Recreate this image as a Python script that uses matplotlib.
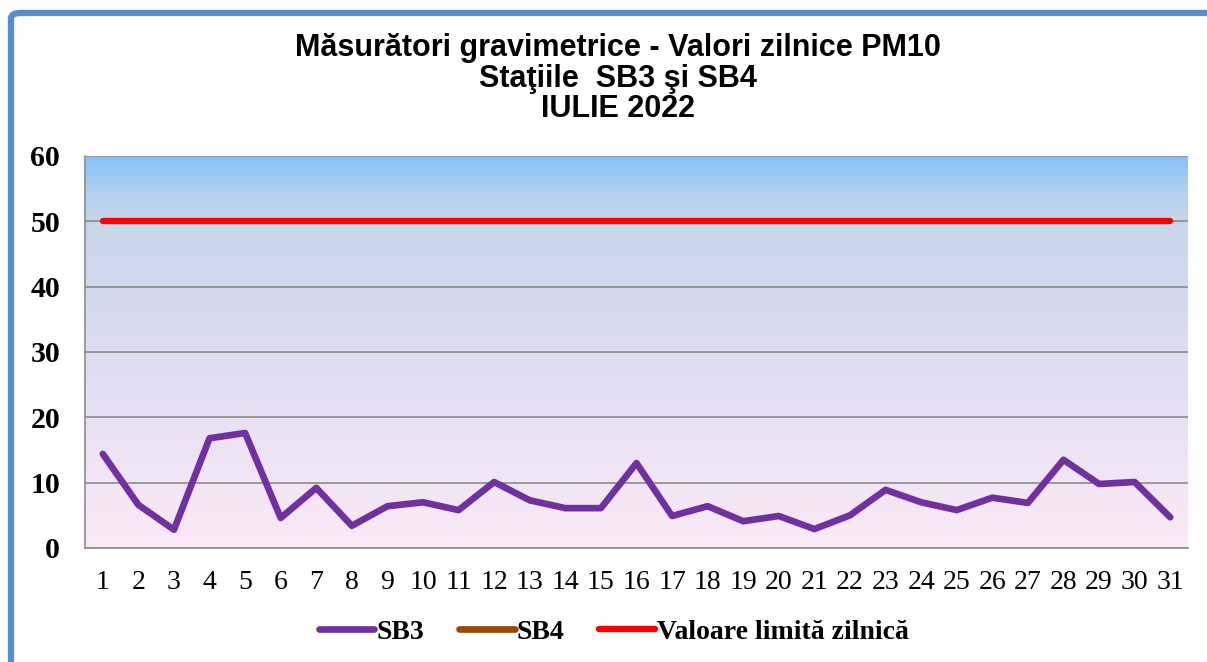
import numpy as np
import matplotlib.pyplot as plt
from matplotlib.colors import LinearSegmentedColormap
from matplotlib.patches import FancyBboxPatch

# date: PM10 zilnic, iulie 2022
zile = list(range(1, 32))
sb3 = [14.4, 6.6, 2.8, 16.8, 17.6, 4.6, 9.2, 3.4, 6.4, 7.0, 5.8, 10.1, 7.3, 6.1, 6.1,
       13.0, 4.9, 6.4, 4.1, 4.9, 2.9, 5.0, 8.9, 7.0, 5.8, 7.7, 6.9, 13.5, 9.8, 10.1, 4.7]
sb4 = [np.nan] * 31
limita = [50] * 31

titlu = "Măsurători gravimetrice - Valori zilnice PM10\nStaţiile  SB3 şi SB4\nIULIE 2022"

fig = plt.figure(figsize=(12.07, 6.62), dpi=100)
ax = fig.add_axes([85/1207, 1 - 548/662, (1188-85)/1207, (548-156)/662])

# fundal in gradient
grad = LinearSegmentedColormap.from_list("fundal", [
    (0.0, "#fbeaf8"), (0.25, "#eee3f4"), (0.55, "#d9dcf0"),
    (0.83, "#c8d7eb"), (0.92, "#b0cff0"), (1.0, "#84c1f9")])
ax.imshow(np.linspace(0, 1, 256).reshape(-1, 1), aspect='auto', cmap=grad,
          extent=[0.5, 31.5, 0, 60], origin='lower', zorder=0)

ax.plot(zile, sb3, color='#7030a0', lw=4.8, solid_capstyle='round',
        solid_joinstyle='round', label='SB3', zorder=3)
ax.plot(zile, sb4, color='#984807', lw=4.8, solid_capstyle='round', label='SB4', zorder=3)
ax.plot(zile, limita, color='#ff0000', lw=4.6, solid_capstyle='round',
        label='Valoare limită zilnică', zorder=3)

ax.set_xlim(0.5, 31.5)
ax.set_ylim(0, 60)
ax.set_yticks(range(0, 61, 10))
ax.set_xticks(zile)
ax.yaxis.grid(True, color='#8c8c8c', lw=1.2, zorder=1)
ax.set_axisbelow(False)
for s in ['top', 'right']:
    ax.spines[s].set_visible(False)
for s in ['left', 'bottom']:
    ax.spines[s].set_color('#8c8c8c')
    ax.spines[s].set_linewidth(1.2)
ax.tick_params(length=0)
ax.tick_params(axis='y', pad=18)
ax.tick_params(axis='x', pad=16)
for lb in ax.get_yticklabels():
    lb.set_fontfamily('Liberation Serif')
    lb.set_fontweight('bold')
    lb.set_fontsize(21.5)
for lb in ax.get_xticklabels():
    lb.set_fontfamily('Liberation Serif')
    lb.set_fontsize(20)

fig.text(618/1207, 1 - 33/662, titlu, ha='center', va='top', fontsize=22,
         fontweight='bold', family='Liberation Sans', linespacing=1.03)

leg = fig.legend(loc='center', bbox_to_anchor=(614/1207, 1 - 632/662), ncol=3,
                 frameon=False, handlelength=2.0, handletextpad=0.08, columnspacing=1.25,
                 prop={'family': 'Liberation Serif', 'weight': 'bold', 'size': 20})

# chenar albastru
fig.add_artist(FancyBboxPatch((11/1207, -0.1), 1.2, 1 - 13/662 + 0.1,
                              boxstyle='round,pad=0,rounding_size=0.008',
                              transform=fig.transFigure, fill=False,
                              edgecolor='#558ed5', lw=4.5, clip_on=False))

plt.savefig('out.png', dpi=100, facecolor='white')
plt.close()
